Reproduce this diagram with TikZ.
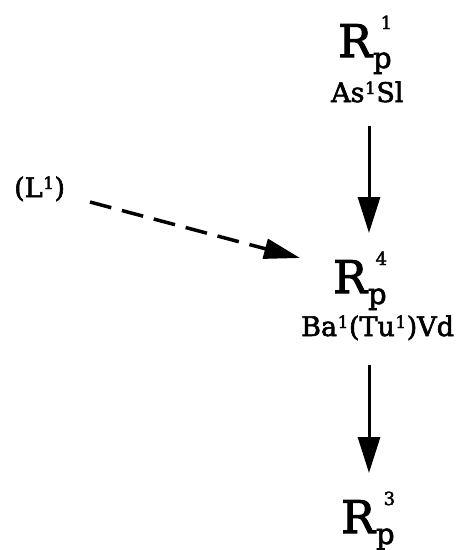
\documentclass[tikz,border=0pt]{standalone}
\usepackage{fontspec}
\setmainfont{DejaVu Serif}[FakeBold=2.2]
\usetikzlibrary{arrows.meta}
\newcommand{\Rpsym}[1]{{\fontsize{45}{45}\selectfont R}\kern1pt\raisebox{-11pt}{\fontsize{29}{29}\selectfont p}\kern-11pt\raisebox{28pt}{\fontsize{18}{18}\selectfont #1}}
\newcommand{\sups}[1]{\kern0.5pt\raisebox{8pt}{\fontsize{17}{17}\selectfont #1}\kern0.5pt}
\tikzset{
  sym/.style={inner sep=0pt, anchor=base west},
  lab/.style={inner sep=0pt, anchor=base west, font=\fontsize{27}{27}\selectfont},
  solidarrow/.style={line width=3pt, -{Triangle[length=36pt,width=22pt]}},
  dasharrow/.style={line width=3.5pt, dash pattern=on 22pt off 11pt, -{Triangle[length=36pt,width=20pt]}}
}
\begin{document}
\begin{tikzpicture}[x=1pt,y=1pt]
\useasboundingbox (0,0) rectangle (457,-550);
\node[sym] (r1) at (338,-57) {\Rpsym{1}};
\node[lab] (lab1) at (331,-102) {As\sups{1}Sl};
\node[lab] (l1) at (14,-197) {(L\sups{1})};
\node[sym] (r4) at (333,-293) {\Rpsym{4}};
\node[lab] (lab4) at (301,-336) {Ba\sups{1}(Tu\sups{1})Vd};
\node[sym] (r3) at (341,-533) {\Rpsym{3}};
\coordinate (a1s) at (369,-126);
\coordinate (a1e) at (369,-233);
\coordinate (a2s) at (369,-365);
\coordinate (a2e) at (369,-473);
\coordinate (d1s) at (90,-202);
\coordinate (d1e) at (300,-258);
\draw[solidarrow] (a1s) -- (a1e);
\draw[solidarrow] (a2s) -- (a2e);
\draw[dasharrow] (d1s) -- (d1e);
\end{tikzpicture}
\end{document}
